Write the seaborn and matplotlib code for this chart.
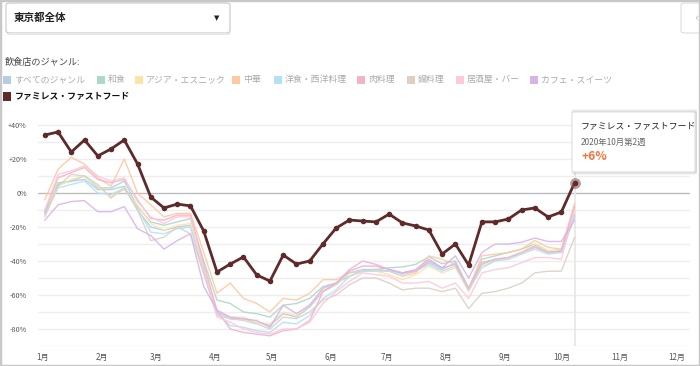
import numpy as np
import pandas as pd
import matplotlib
matplotlib.use("Agg")
import matplotlib.pyplot as plt
import seaborn as sns
from matplotlib.patches import FancyBboxPatch, Rectangle

sns.set_theme(style="white")
plt.rcParams['font.family'] = ['Noto Sans CJK JP', 'DejaVu Sans']

# ---------------- data (weekly % change vs previous year) ----------------
week_days = [1 + 7 * i for i in range(41)]  # day of year 2020

genres = ["すべてのジャンル", "和食", "アジア・エスニック", "中華", "洋食・西洋料理",
          "肉料理", "鍋料理", "居酒屋・バー", "カフェ・スイーツ", "ファミレス・ファストフード"]
colors = ["#b3cde4", "#acd9c8", "#fde3a7", "#fdc9a2", "#b4e1f8",
          "#f5b1ca", "#ddd0c4", "#fcc9dd", "#d8b4ec", "#5e2a2a"]

all_genre = [-12, 5, 7, 8, 2, 2, 4, -10, -20, -22, -20, -19, -45, -70, -74, -74, -76, -78, -71, -73, -67,
             -58, -54, -47, -45, -45, -46, -47, -46, -41, -45, -41, -57, -42, -39, -38, -35, -31, -35, -34, -13]
washoku = [-12, 6, 7, 10, 3, 3, 7, -8, -17, -19, -17, -15, -40, -63, -65, -70, -71, -73, -66, -65, -62,
           -55, -53, -49, -46, -45, -44, -43.5, -42, -37.5, -41.6, -40, -56, -39, -37, -35, -33, -30, -34, -35, -14]
asia = [-10, 4, 8, 10, 4, -2, 2, -7, -18, -22, -19, -18, -45, -69, -73, -73, -76, -77, -70, -72, -66,
        -57, -54, -47, -46, -46, -48, -51, -48, -43, -47, -44, -58, -43, -40, -38, -35, -30, -34, -33, -11]
chuka = [-4, 14, 21, 17, 9, 4, 20, 0, -7, -14, -12, -12, -35, -59, -53, -62, -65, -70, -62, -63, -59,
         -51, -51, -47, -46, -45, -46, -49, -47, -37, -39, -42, -57, -37, -36, -35, -33, -28, -32, -33, -6]
yoshoku = [-13, 3, 5, 7, 0, -1, 3, -9, -23, -24, -21, -20, -48, -71, -78, -79, -81, -82, -76, -77, -72,
           -62, -57, -49, -46, -46, -46, -48, -46, -42, -46, -43, -57, -44, -40, -39, -36, -33, -36, -35, -14]
niku = [-11, 9, 12, 15, 8, 6, 8, -4, -15, -16, -13, -13, -42, -69, -80, -82, -83, -84, -81, -80, -75,
        -58, -53, -45, -40, -42, -45, -47, -46, -40, -44, -42, -56, -41, -39, -38, -35, -32, -35, -34, -8]
nabe = [-14, 4, 11, 10, 5, -3, 3, -10, -28, -26, -20, -24, -47, -72, -74, -75, -77, -80, -73, -74, -70,
        -63, -60, -54, -50, -50, -53, -57, -56, -56, -58, -56, -68, -59, -58, -56, -53, -47, -46, -46, -26]
izakaya = [-10, 11, 13, 16, 10, 7, 9, -5, -14, -18, -14, -14, -44, -73, -76, -80, -82, -83, -80, -80, -76,
           -65, -58, -52, -47, -48, -49, -53, -53, -52, -56, -53, -62, -47, -45, -44, -41, -38, -38, -39, -10]
cafe = [-16, -7, -5, -4.5, -11, -11, -8, -21, -25, -33, -28, -24, -55, -69, -73, -74, -75, -79, -66, -71, -66,
        -56, -53, -46, -43, -43, -45, -47, -45, -39, -44, -37, -50, -35, -30, -30, -29, -26.5, -28.5, -28.5, -16]
famires = [34.1, 35.9, 24.1, 31.2, 21.8, 25.9, 31.2, 17.1, -2.4, -8.8, -6.5, -7.6, -22.4, -46.5, -41.8, -37.6,
           -48.2, -51.8, -36.5, -41.8, -40, -30, -20.6, -15.9, -16.5, -17, -12.4, -17.6, -19.4, -21.8, -35.9,
           -30, -42.4, -17, -17, -15.3, -10, -8.8, -14.1, -11.2, 6]

series = [all_genre, washoku, asia, chuka, yoshoku, niku, nabe, izakaya, cafe, famires]

month_days = [0, 31, 60, 91, 121, 152, 182, 213, 244, 274, 305, 335]
month_labels = [f"{m}月" for m in range(1, 13)]
y_ticks = [40, 20, 0, -20, -40, -60, -80]
y_labels = ["+40%", "+20%", "0%", "-20%", "-40%", "-60%", "-80%"]

df = pd.DataFrame({
    "day": np.tile(week_days, len(genres)),
    "value": np.concatenate([np.array(s, float) for s in series]),
    "genre": np.repeat(genres, len(week_days)),
})

# ---------------- figure ----------------
W, H = 700, 366
fig = plt.figure(figsize=(W / 100, H / 100), dpi=100)
fig.patch.set_facecolor("white")


def fx(x):
    return x / W


def fy(y):
    return 1 - y / H


ax_left, ax_right, ax_top, ax_bot = 38, 690, 116.5, 346
ax = fig.add_axes([fx(ax_left), fy(ax_bot), (ax_right - ax_left) / W, (ax_bot - ax_top) / H])
ax.set_xlim(-2.6, 342)
ax.set_ylim(-90, 45)

# gridlines
for v in range(-90, 41, 10):
    if v == 0:
        continue
    ax.axhline(v, color="#eeeeee", lw=1, zorder=0)
ax.axhline(0, color="#bdbdbd", lw=1, zorder=0.5)

light = df[df["genre"] != genres[-1]]
sns.lineplot(data=light, x="day", y="value", hue="genre", hue_order=genres[:-1],
             palette=colors[:-1], linewidth=1.0, alpha=0.9, legend=False, ax=ax,
             estimator=None, sort=False)
dark = df[df["genre"] == genres[-1]]
sns.lineplot(data=dark, x="day", y="value", color=colors[-1], linewidth=2.0,
             marker="o", markersize=4, markeredgewidth=0, legend=False, ax=ax,
             estimator=None, sort=False, zorder=5)

# hover crosshair + highlighted point
hx = week_days[-1]
ax.axvline(hx, color="#e6e6e6", lw=1.2, zorder=0.6)
ax.scatter([hx], [famires[-1]], s=60, color="#8a5a5a", alpha=0.6, zorder=6, linewidths=0)
ax.scatter([hx], [famires[-1]], s=14, color=colors[-1], zorder=7, linewidths=0)

for s in ax.spines.values():
    s.set_visible(False)
ax.set_xlabel("")
ax.set_ylabel("")
ax.set_yticks(y_ticks)
ax.set_yticklabels(y_labels)
ax.set_xticks(month_days)
ax.set_xticklabels(month_labels)
ax.tick_params(axis="y", length=0, pad=8, labelsize=5.2, labelcolor="#555555")
ax.tick_params(axis="x", length=0, pad=5, labelsize=5.8, labelcolor="#555555")
ax.grid(False)

# ---------------- outer frame ----------------
fig.patches.append(Rectangle((0, 0), 1, 1, transform=fig.transFigure, fill=False,
                             edgecolor="#c8c8c8", lw=2.5, zorder=10))

# dropdown
dd = FancyBboxPatch((fx(6), fy(33)), fx(224), 30 / H, boxstyle="round,pad=0,rounding_size=0.006",
                    transform=fig.transFigure, facecolor="white", edgecolor="#cccccc", lw=0.9)
fig.patches.append(dd)
fig.patches.append(Rectangle((fx(7), fy(34.5)), fx(223), 1.5 / H, transform=fig.transFigure,
                             facecolor="#e8e8e8", edgecolor="none"))
fig.text(fx(14), fy(18), "東京都全体", fontsize=7.6, color="#222222", va="center", ha="left",
         fontweight="bold")
fig.text(fx(217), fy(18), "▼", fontsize=5, color="#222222", va="center", ha="center",
         family=["DejaVu Sans"])

# right side collapsed box
rb = FancyBboxPatch((fx(681), fy(33)), fx(25), 30 / H, boxstyle="round,pad=0,rounding_size=0.006",
                    transform=fig.transFigure, facecolor="white", edgecolor="#dddddd", lw=0.8)
fig.patches.append(rb)
fig.text(fx(696), fy(18), "‹", fontsize=7, color="#bbbbbb", va="center", ha="center",
         family=["DejaVu Sans"])

# legend
fig.text(fx(5), fy(62), "飲食店のジャンル:", fontsize=6.6, color="#444444", va="center", ha="left")
leg_x = [3, 97, 135, 232, 274, 357, 407, 456, 530]
for i in range(9):
    x0 = leg_x[i]
    fig.patches.append(Rectangle((fx(x0), fy(84)), fx(8), 8 / H, transform=fig.transFigure,
                                 facecolor=colors[i], edgecolor="none"))
    fig.text(fx(x0 + 11), fy(79.5), genres[i], fontsize=6.4, color="#aaaaaa", va="center", ha="left")
fig.patches.append(Rectangle((fx(3), fy(100.5)), fx(8), 8.5 / H, transform=fig.transFigure,
                             facecolor=colors[-1], edgecolor="none"))
fig.text(fx(15), fy(96.5), genres[-1], fontsize=6.4, color="#111111", va="center", ha="left",
         fontweight="bold")

# tooltip
for k, a in [(3, 0.04), (2, 0.05), (1, 0.07)]:
    fig.patches.append(FancyBboxPatch((fx(573 - k + 1), fy(172 + k)), fx(123 + k), (60 + 2 * k) / H,
                                      boxstyle="round,pad=0,rounding_size=0.004",
                                      transform=fig.transFigure, facecolor="black", alpha=a,
                                      edgecolor="none", zorder=11))
fig.patches.append(FancyBboxPatch((fx(572), fy(172)), fx(123), 60 / H,
                                  boxstyle="round,pad=0,rounding_size=0.004",
                                  transform=fig.transFigure, facecolor="white",
                                  edgecolor="#e2e2e2", lw=0.8, zorder=12))
fig.text(fx(581), fy(126), genres[-1], fontsize=6.4, color="#222222", va="center", ha="left",
         zorder=13)
fig.text(fx(581), fy(142), "2020年10月第2週", fontsize=6.0, color="#666666", va="center", ha="left",
         zorder=13)
fig.text(fx(581), fy(157), f"+{famires[-1]:.0f}%", fontsize=8.6, color="#f0743e", va="center",
         ha="left", fontweight="bold", zorder=13)

fig.savefig("out.png", dpi=100, facecolor="white")
